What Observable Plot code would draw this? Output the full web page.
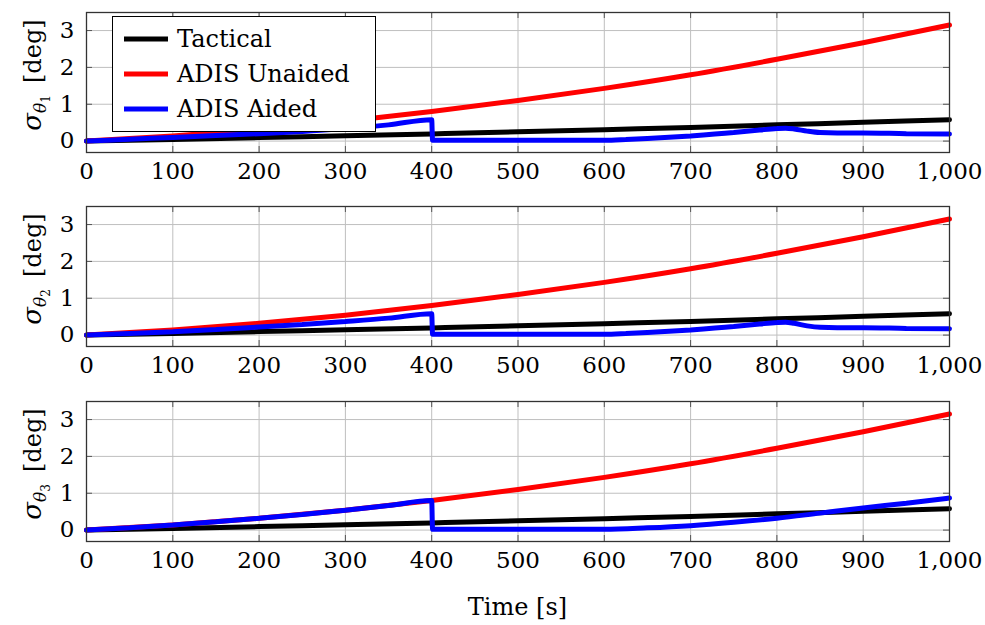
<!DOCTYPE html>
<html>
<head>
<meta charset="utf-8">
<script src="https://cdn.jsdelivr.net/npm/d3@7"></script>
<script src="https://cdn.jsdelivr.net/npm/@observablehq/plot@0.6"></script>
<style>
  html, body { margin: 0; padding: 0; background: white; }
  #wrap { position: relative; width: 985px; height: 625px; overflow: hidden; }
  #wrap svg { position: absolute; left: 0; }
</style>
</head>
<body>
<div id="wrap"></div>
<script>
// ---- data ----
const xTicks = [0, 100, 200, 300, 400, 500, 600, 700, 800, 900, 1000];
const yTicks = [0, 1, 2, 3];
const seriesNames = ["Tactical", "ADIS Unaided", "ADIS Aided"];
const seriesColors = ["black", "red", "blue"];

const tacticalT = [0, 100, 200, 300, 400, 500, 600, 700, 800, 900, 1000];
const tacticalV = [0, 0.045, 0.095, 0.145, 0.195, 0.25, 0.31, 0.37, 0.44, 0.51, 0.58];

const unaidedT = [0, 100, 200, 300, 400, 500, 600, 700, 800, 900, 1000];
const unaidedV = [0, 0.14, 0.32, 0.54, 0.80, 1.10, 1.43, 1.80, 2.22, 2.67, 3.15];

const aided1T = [0, 50, 100, 150, 200, 250, 300, 350, 400, 401, 450, 500, 550, 600, 625, 650, 700, 750, 780, 800, 810, 820, 835, 850, 870, 900, 950, 1000];
const aided1V = [0, 0.05, 0.10, 0.15, 0.20, 0.26, 0.34, 0.44, 0.58, 0.02, 0.02, 0.02, 0.02, 0.02, 0.04, 0.07, 0.14, 0.23, 0.30, 0.34, 0.35, 0.33, 0.27, 0.23, 0.22, 0.22, 0.20, 0.19];

const aided2T = [0, 50, 100, 150, 200, 250, 300, 350, 400, 401, 450, 500, 550, 600, 625, 650, 700, 750, 780, 800, 810, 820, 835, 850, 870, 900, 950, 1000];
const aided2V = [0, 0.045, 0.09, 0.15, 0.22, 0.29, 0.37, 0.46, 0.58, 0.02, 0.02, 0.02, 0.02, 0.02, 0.04, 0.07, 0.14, 0.23, 0.30, 0.34, 0.35, 0.32, 0.25, 0.21, 0.20, 0.20, 0.18, 0.17];

const aided3T = [0, 50, 100, 150, 200, 250, 300, 350, 400, 401, 450, 500, 550, 600, 650, 700, 750, 800, 850, 900, 950, 1000];
const aided3V = [0, 0.065, 0.14, 0.225, 0.32, 0.425, 0.54, 0.665, 0.80, 0.02, 0.02, 0.02, 0.02, 0.02, 0.06, 0.12, 0.21, 0.32, 0.46, 0.60, 0.73, 0.87];

const subscripts = ["1", "2", "3"];
const xLabel = "Time [s]";
const yUnit = "[deg]";

// ---- helpers ----
const zip = (T, V) => T.map((t, i) => ({t, v: V[i]}));
const tactical = zip(tacticalT, tacticalV);
const unaided = zip(unaidedT, unaidedV);
const aided = [zip(aided1T, aided1V), zip(aided2T, aided2V), zip(aided3T, aided3V)];

const FONT = "'DejaVu Serif', serif";
const wrap = document.getElementById("wrap");
const tops = [0, 194, 389];
const heights = [193, 193, 236];
const W = 985, ML = 86, MR = 36, MT = 12, PH = 140;
const LW = 5;

for (let i = 0; i < 3; i++) {
  const chart = Plot.plot({
    width: W,
    height: heights[i],
    marginTop: MT,
    marginLeft: ML,
    marginRight: MR,
    marginBottom: heights[i] - MT - PH,
    style: {fontFamily: FONT, fontSize: "23px", background: "transparent", color: "black"},
    x: {domain: [0, 1000]},
    y: {domain: [-0.31, 3.49]},
    marks: [
      Plot.gridX(xTicks, {stroke: "#bfbfbf", strokeOpacity: 1, strokeWidth: 1}),
      Plot.gridY(yTicks, {stroke: "#bfbfbf", strokeOpacity: 1, strokeWidth: 1}),
      Plot.tickX(xTicks, {x: d => d, insetTop: PH - 6, stroke: "#555", strokeWidth: 1}),
      Plot.tickX(xTicks, {x: d => d, insetBottom: PH - 6, stroke: "#555", strokeWidth: 1}),
      Plot.tickY(yTicks, {y: d => d, insetRight: W - ML - MR - 6, stroke: "#555", strokeWidth: 1}),
      Plot.tickY(yTicks, {y: d => d, insetLeft: W - ML - MR - 6, stroke: "#555", strokeWidth: 1}),
      Plot.line(tactical, {x: "t", y: "v", stroke: seriesColors[0], strokeWidth: LW, curve: "monotone-x"}),
      Plot.line(unaided, {x: "t", y: "v", stroke: seriesColors[1], strokeWidth: LW, curve: "monotone-x"}),
      Plot.line(aided[i], {x: "t", y: "v", stroke: seriesColors[2], strokeWidth: LW, curve: "monotone-x", strokeLinejoin: "miter"}),
      Plot.frame({stroke: "#333", strokeWidth: 1.3}),
      Plot.axisX(xTicks, {tickSize: 0, tickPadding: 10, tickFormat: d3.format(","), label: null, fontSize: 23}),
      Plot.axisY(yTicks, {tickSize: 0, tickPadding: 12, label: null, fontSize: 23})
    ]
  });
  chart.style.top = tops[i] + "px";
  wrap.appendChild(chart);

  const svg = d3.select(chart);
  // y axis label: sigma_{theta_i} [deg]
  const cy = MT + 63;
  const t = svg.append("text")
    .attr("transform", `translate(41, ${cy}) rotate(-90)`)
    .attr("text-anchor", "middle")
    .attr("fill", "black")
    .style("font-family", FONT)
    .style("font-size", "24px");
  t.append("tspan").attr("font-style", "italic").attr("font-size", "26px").text("σ");
  t.append("tspan").attr("font-style", "italic").attr("font-size", "17px").attr("dy", 5).text("θ");
  t.append("tspan").attr("font-size", "12px").attr("dy", 4).text(subscripts[i]);
  t.append("tspan").attr("dy", -9).attr("dx", 12).text(yUnit);

  if (i === 0) {
    const lg = svg.append("g");
    lg.append("rect").attr("x", 112.5).attr("y", 16.5).attr("width", 263).attr("height", 115)
      .attr("fill", "white").attr("stroke", "black").attr("stroke-width", 1);
    const ys = [39, 74, 109];
    seriesNames.forEach((name, k) => {
      lg.append("line").attr("x1", 124).attr("x2", 168).attr("y1", ys[k]).attr("y2", ys[k])
        .attr("stroke", seriesColors[k]).attr("stroke-width", LW);
      lg.append("text").attr("x", 177).attr("y", ys[k] + 8).attr("fill", "black")
        .attr("text-anchor", "start")
        .style("font-family", FONT).style("font-size", "24px").text(name);
    });
  }
  if (i === 2) {
    svg.append("text").attr("x", ML + (W - ML - MR) / 2).attr("y", 615 - tops[2])
      .attr("text-anchor", "middle").attr("fill", "black")
      .style("font-family", FONT).style("font-size", "24px").text(xLabel);
  }
}
</script>
</body>
</html>
